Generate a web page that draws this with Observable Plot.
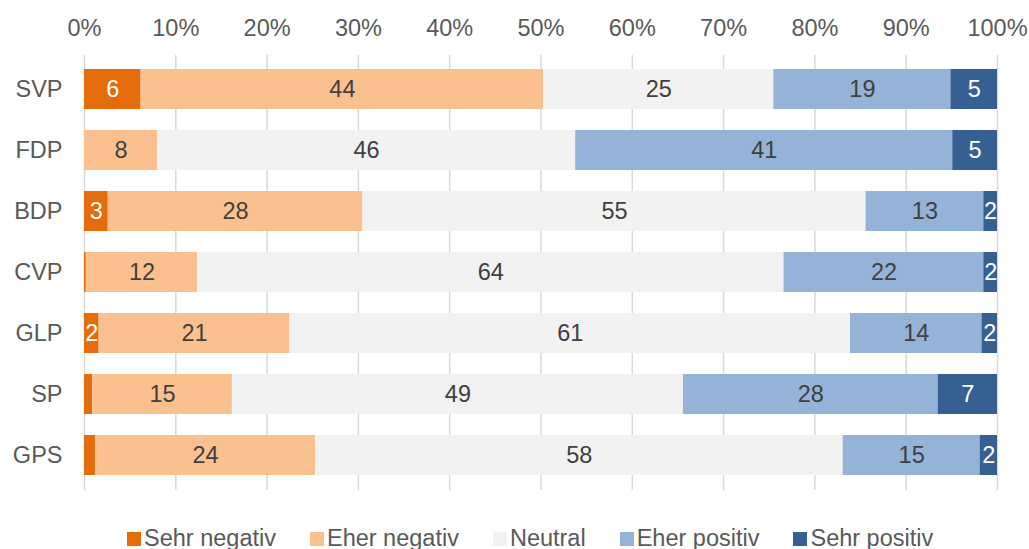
<!DOCTYPE html>
<html>
<head>
<meta charset="utf-8">
<script src="https://cdn.jsdelivr.net/npm/d3@7"></script>
<script src="https://cdn.jsdelivr.net/npm/@observablehq/plot@0.6"></script>
<style>
  body { margin: 0; background: #fff; font-family: "Liberation Sans", Arial, sans-serif; overflow: hidden; }
  #legend { display: flex; align-items: center; height: 26px; line-height: 24px; padding-top: 2px; padding-left: 127px; font-size: 23.5px; color: #595959; white-space: nowrap; }
  #legend .item { display: flex; align-items: center; margin-right: 34px; }
  #legend .sw { width: 14px; height: 14px; margin-right: 3px; margin-top: 2px; }
</style>
</head>
<body>
<div id="chart"></div>
<div id="legend"></div>
<script>
const parties = ["SVP", "FDP", "BDP", "CVP", "GLP", "SP", "GPS"];
const categories = ["Sehr negativ", "Eher negativ", "Neutral", "Eher positiv", "Sehr positiv"];
const colors = ["#E46C0A", "#FAC090", "#F2F2F2", "#95B3D7", "#376092"];
const textColors = ["#ffffff", "#404040", "#404040", "#404040", "#ffffff"];
const sehrNegativ = [6.2, 0, 2.6, 0.2, 1.6, 0.9, 1.2];
const eherNegativ = [44.1, 8.0, 27.9, 12.2, 20.9, 15.3, 24.1];
const neutral = [25.2, 45.8, 55.1, 64.3, 61.4, 49.4, 57.8];
const eherPositiv = [19.4, 41.3, 12.9, 21.9, 14.4, 27.9, 15.0];
const sehrPositiv = [5.1, 4.9, 1.5, 1.5, 1.7, 6.5, 1.9];
const xTicks = [0, 0.1, 0.2, 0.3, 0.4, 0.5, 0.6, 0.7, 0.8, 0.9, 1];

const series = [sehrNegativ, eherNegativ, neutral, eherPositiv, sehrPositiv];
const data = [];
parties.forEach((p, i) => {
  categories.forEach((c, j) => {
    data.push({party: p, category: c, value: series[j][i], ci: j});
  });
});

const stackOpts = {x: "value", y: "party", z: "category", order: categories, offset: "normalize"};
const FS = 23.5;

const chart = Plot.plot({
  width: 1029,
  height: 523,
  marginLeft: 84,
  marginRight: 32,
  marginTop: 55,
  marginBottom: 33,
  style: {fontFamily: "'Liberation Sans', Arial, sans-serif", fontSize: FS + "px", color: "#595959", overflow: "visible"},
  x: {domain: [0, 1], axis: null},
  y: {domain: parties, paddingInner: 0.337, paddingOuter: 0.195, axis: null},
  color: {domain: categories, range: colors},
  marks: [
    Plot.gridX(xTicks, {stroke: "#D9D9D9", strokeOpacity: 1, strokeWidth: 1.5}),
    Plot.barX(data, Plot.stackX({...stackOpts, fill: "category"})),
    Plot.text(data, Plot.stackX({
      ...stackOpts,
      text: d => d.value >= 1.5 ? String(Math.round(d.value)) : "",
      fill: d => textColors[d.ci],
      fontSize: FS
    })),
    Plot.axisX(xTicks, {anchor: "top", label: null, tickSize: 0, tickPadding: 20, tickFormat: d => Math.round(d * 100) + "%", fontSize: FS, fill: "#595959"}),
    Plot.axisY({anchor: "left", label: null, tickSize: 0, tickPadding: 22, fontSize: FS, fill: "#595959"})
  ]
});
document.getElementById("chart").appendChild(chart);

const legend = document.getElementById("legend");
categories.forEach((c, j) => {
  const item = document.createElement("div");
  item.className = "item";
  const sw = document.createElement("span");
  sw.className = "sw";
  sw.style.background = colors[j];
  const t = document.createElement("span");
  t.textContent = c;
  item.appendChild(sw);
  item.appendChild(t);
  legend.appendChild(item);
});
</script>
</body>
</html>
